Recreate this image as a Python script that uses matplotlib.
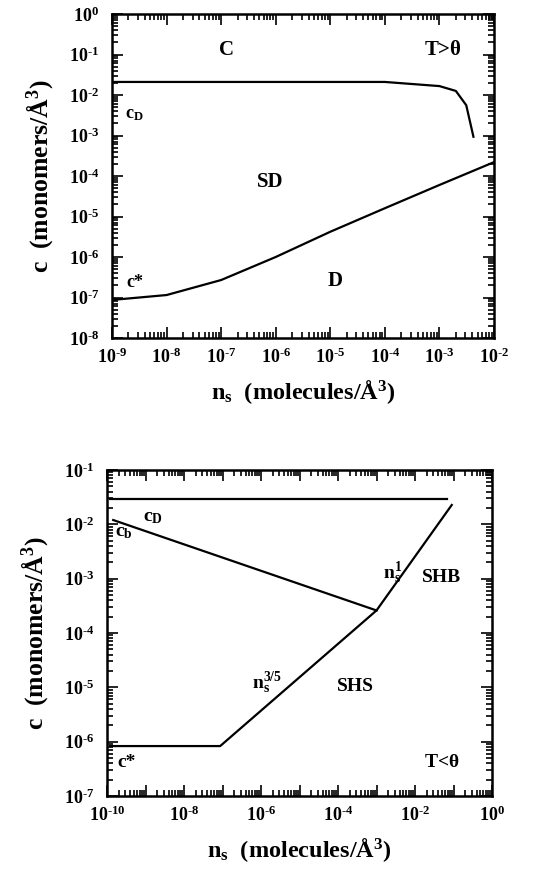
import math
import matplotlib
matplotlib.use("Agg")
import matplotlib.pyplot as plt
import matplotlib.ticker as ticker

plt.rcParams['font.family'] = ['Liberation Serif', 'DejaVu Serif']
plt.rcParams['font.weight'] = 'bold'
plt.rcParams['mathtext.fontset'] = 'custom'
plt.rcParams['mathtext.rm'] = 'Liberation Serif:bold'
plt.rcParams['mathtext.it'] = 'Liberation Serif:bold'
plt.rcParams['mathtext.bf'] = 'Liberation Serif:bold'

# top panel, T > theta
cd_top_x = [1e-9, 1e-8, 1e-7, 1e-6, 1e-5, 1e-4, 1e-3, 2e-3, 3.1e-3, 4.2e-3]
cd_top_y = [0.021, 0.021, 0.021, 0.021, 0.021, 0.021, 0.0166, 0.0126, 0.0056, 9.3e-4]
cstar_top_x = [1e-9, 1e-8, 1e-7, 1e-6, 1e-5, 1e-4, 1e-3, 1e-2]
cstar_top_y = [8.7e-8, 1.15e-7, 2.7e-7, 1.0e-6, 4.2e-6, 1.6e-5, 6.0e-5, 2.2e-4]

# bottom panel, T < theta
cd_bot_x = [1.2e-10, 0.066]
cd_bot_y = [0.029, 0.029]
cb_bot_x = [1.45e-10, 1e-3]
cb_bot_y = [0.012, 2.6e-4]
cstar_bot_x = [1.2e-10, 8.7e-8, 1e-3, 0.09]
cstar_bot_y = [8.3e-7, 8.3e-7, 2.6e-4, 0.0227]


def pow_label(v):
    e = int(round(math.log10(v)))
    s = str(e).replace('-', r'\text{-}')
    return r'$\mathbf{10}^{\mathbf{%s}}$' % s


def style_axes(ax, label_every=1):
    ax.set_xscale('log')
    ax.set_yscale('log')
    ax.tick_params(which='both', direction='in', top=True, right=True,
                   labelsize=13, width=1.2)
    ax.tick_params(which='major', length=8)
    ax.tick_params(which='minor', length=4)
    ax.tick_params(axis='x', which='major', pad=7)
    ax.tick_params(axis='y', which='major', pad=9)
    for axis in (ax.xaxis, ax.yaxis):
        axis.set_major_locator(ticker.LogLocator(base=10, numticks=30))
        axis.set_minor_locator(ticker.LogLocator(base=10, subs=range(2, 10), numticks=30))
        axis.set_minor_formatter(ticker.NullFormatter())

    def xfmt(v, pos):
        e = int(round(math.log10(v)))
        if e % label_every != 0:
            return ''
        return pow_label(v)
    ax.xaxis.set_major_formatter(ticker.FuncFormatter(xfmt))
    ax.yaxis.set_major_formatter(ticker.FuncFormatter(lambda v, p: pow_label(v)))
    for s in ax.spines.values():
        s.set_linewidth(1.8)
    ax.set_xlabel(r'n$_{\mathbf{s}}$  (molecules/Å$^{\mathbf{3}}$)', fontsize=17.5,
                  fontweight='bold', labelpad=8)
    ax.set_ylabel(r'c  (monomers/Å$^{\mathbf{3}}$)', fontsize=18.5, fontweight='bold',
                  labelpad=10)


fig = plt.figure(figsize=(5.49, 8.69), dpi=100)

ax1 = fig.add_axes([112/549, 1-338/869, 382/549, 324/869])
ax1.plot(cd_top_x, cd_top_y, 'k-', lw=1.6)
ax1.plot(cstar_top_x, cstar_top_y, 'k-', lw=1.6)
ax1.set_xlim(1e-9, 1e-2)
ax1.set_ylim(1e-8, 1e0)
style_axes(ax1)
t = dict(transform=ax1.transAxes, fontsize=15, fontweight='bold')
ax1.text(0.30, 0.89, 'C', ha='center', va='center', **t)
ax1.text(0.867, 0.89, r'T>$\mathbf{\theta}$', ha='center', va='center', **t)
ax1.text(0.034, 0.69, r'c$_{\mathbf{D}}$', ha='left', va='center', fontsize=13,
         fontweight='bold', transform=ax1.transAxes)
ax1.text(0.414, 0.48, 'SD', ha='center', va='center', **t)
ax1.text(0.037, 0.17, 'c*', ha='left', va='center', fontsize=13,
         fontweight='bold', transform=ax1.transAxes)
ax1.text(0.584, 0.175, 'D', ha='center', va='center', **t)

ax2 = fig.add_axes([107/549, 1-796/869, 385/549, 326/869])
ax2.plot(cd_bot_x, cd_bot_y, 'k-', lw=1.6)
ax2.plot(cb_bot_x, cb_bot_y, 'k-', lw=1.6)
ax2.plot(cstar_bot_x, cstar_bot_y, 'k-', lw=1.6)
ax2.set_xlim(1e-10, 1e0)
ax2.set_ylim(1e-7, 1e-1)
style_axes(ax2, label_every=2)
t = dict(transform=ax2.transAxes, fontsize=14, fontweight='bold')
ax2.text(0.094, 0.853, r'c$_{\mathbf{D}}$', ha='left', va='center', **t)
ax2.text(0.021, 0.807, r'c$_{\mathbf{b}}$', ha='left', va='center', **t)
ax2.text(0.717, 0.684, r'n$_{\mathbf{s}}^{\mathbf{1}}$', ha='left', va='center', **t)
ax2.text(0.87, 0.67, 'SHB', ha='center', va='center', **t)
ax2.text(0.376, 0.347, r'n$_{\mathbf{s}}^{\mathbf{3/5}}$', ha='left', va='center', **t)
ax2.text(0.644, 0.335, 'SHS', ha='center', va='center', **t)
ax2.text(0.026, 0.104, 'c*', ha='left', va='center', **t)
ax2.text(0.87, 0.104, r'T<$\mathbf{\theta}$', ha='center', va='center', **t)

fig.savefig('out.png', dpi=100)
